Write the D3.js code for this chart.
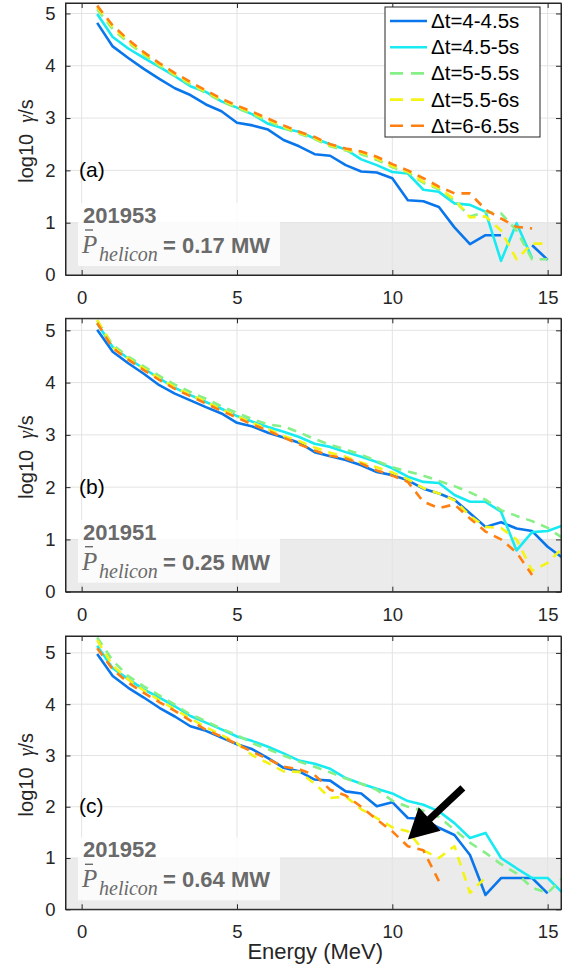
<!DOCTYPE html>
<html>
<head>
<meta charset="utf-8">
<script src="https://cdn.jsdelivr.net/npm/d3@7/dist/d3.min.js"></script>
<style>
  html, body { margin: 0; padding: 0; background: #fff; }
  svg { display: block; }
</style>
</head>
<body>
<svg id="chart" width="563" height="977"></svg>
<script>
// Energy bins (MeV)
const energy = [0.5, 1, 1.5, 2, 2.5, 3, 3.5, 4, 4.5, 5, 5.5, 6, 6.5, 7, 7.5, 8,
  8.5, 9, 9.5, 10, 10.5, 11, 11.5, 12, 12.5, 13, 13.5, 14, 14.5, 15, 15.5];

// Time windows
const seriesLabels = ["\u0394t=4-4.5s", "\u0394t=4.5-5s", "\u0394t=5-5.5s", "\u0394t=5.5-6s", "\u0394t=6-6.5s"];
const seriesColors = ["#0a76ec", "#18eaf2", "#86f086", "#f4f414", "#ff7f10"];
const seriesDashed = [false, false, true, true, true];

// Shot 201953 : log10 gamma/s
const a_t4  = [4.82, 4.37, 4.15, 3.94, 3.75, 3.57, 3.44, 3.26, 3.13, 2.91, 2.86, 2.78, 2.58, 2.46, 2.31, 2.28,
  2.10, 1.98, 1.96, 1.85, 1.43, 1.41, 1.30, 0.91, 0.59, 0.76, 0.76, null, 0.57, 0.29, null];
const a_t45 = [4.99, 4.55, 4.33, 4.15, 3.98, 3.80, 3.61, 3.50, 3.32, 3.20, 3.07, 2.89, 2.80, 2.74, 2.61, 2.50,
  2.40, 2.21, 2.10, 1.97, 1.94, 1.63, 1.59, 1.37, 1.34, 1.21, 0.27, 0.99, 0.32, null, null];
const a_t5  = [5.08, 4.70, 4.44, 4.21, 4.00, 3.81, 3.64, 3.48, 3.32, 3.19, 3.07, 2.94, 2.81, 2.70, 2.60, 2.46,
  2.38, 2.31, 2.20, 2.06, 1.96, 1.76, 1.64, 1.42, 1.12, 1.20, 1.18, 0.85, 0.30, 0.30, null];
const a_t55 = [5.12, 4.74, 4.47, 4.23, 4.03, 3.84, 3.67, 3.51, 3.35, 3.22, 3.10, 2.97, 2.84, 2.72, 2.62, 2.48,
  2.40, 2.34, 2.23, 2.08, 1.98, 1.78, 1.66, 1.45, 1.10, 1.12, 0.85, 0.30, 0.60, 0.60, null];
const a_t6  = [5.15, 4.77, 4.50, 4.26, 4.05, 3.86, 3.69, 3.53, 3.37, 3.24, 3.12, 2.99, 2.86, 2.74, 2.64, 2.50,
  2.42, 2.36, 2.26, 2.12, 2.00, 1.85, 1.69, 1.56, 1.56, 1.25, 1.08, 0.92, 0.89, null, null];

// Shot 201951
const b_t4  = [5.01, 4.59, 4.37, 4.17, 3.95, 3.79, 3.66, 3.53, 3.41, 3.23, 3.16, 3.04, 2.95, 2.85, 2.67, 2.59,
  2.52, 2.42, 2.29, 2.23, 2.13, 1.97, 1.88, 1.76, 1.50, 1.24, 1.33, 1.21, 1.16, 0.86, 0.64];
const b_t45 = [5.13, 4.68, 4.46, 4.27, 4.08, 3.90, 3.76, 3.63, 3.50, 3.36, 3.25, 3.15, 3.06, 2.96, 2.83, 2.77,
  2.67, 2.58, 2.48, 2.36, 2.20, 2.10, 2.08, 1.85, 1.72, 1.72, 1.53, 0.79, 1.14, 1.16, 1.27];
const b_t5  = [5.18, 4.72, 4.50, 4.31, 4.13, 3.96, 3.82, 3.69, 3.55, 3.42, 3.30, 3.20, 3.16, 3.05, 2.92, 2.81,
  2.72, 2.62, 2.50, 2.38, 2.30, 2.22, 2.12, 2.02, 1.90, 1.76, 1.56, 1.45, 1.35, 1.22, 1.02];
const b_t55 = [5.20, 4.68, 4.46, 4.27, 4.08, 3.91, 3.77, 3.63, 3.49, 3.36, 3.23, 3.11, 2.98, 2.88, 2.76, 2.66,
  2.58, 2.47, 2.38, 2.28, 2.15, 1.98, 1.88, 1.75, 1.45, 1.24, 1.22, 1.00, 0.40, 0.55, 0.85];
const b_t6  = [5.14, 4.66, 4.44, 4.24, 4.05, 3.88, 3.74, 3.60, 3.46, 3.33, 3.20, 3.08, 2.95, 2.82, 2.70, 2.60,
  2.55, 2.45, 2.32, 2.22, 2.10, 1.72, 1.60, 1.67, 1.40, 1.15, 1.00, 0.75, 0.32, null, null];

// Shot 201952
const c_t4  = [4.98, 4.55, 4.32, 4.13, 3.93, 3.76, 3.57, 3.48, 3.35, 3.22, 3.12, 2.95, 2.76, 2.69, 2.53, 2.51,
  2.30, 2.26, 2.01, 2.09, 1.78, 1.76, 1.59, 1.45, 1.06, 0.28, 0.61, 0.61, 0.61, 0.31, null];
const c_t45 = [5.14, 4.70, 4.49, 4.29, 4.13, 3.96, 3.77, 3.64, 3.51, 3.37, 3.28, 3.17, 3.04, 2.90, 2.84, 2.74,
  2.56, 2.45, 2.35, 2.26, 2.11, 2.04, 1.91, 1.68, 1.39, 1.49, 1.00, 0.80, 0.61, 0.61, 0.31];
const c_t5  = [5.30, 4.85, 4.55, 4.35, 4.17, 3.99, 3.80, 3.67, 3.52, 3.40, 3.24, 3.12, 3.00, 2.88, 2.78, 2.67,
  2.55, 2.45, 2.33, 2.12, 2.00, 1.92, 1.80, 1.55, 1.30, 1.10, 0.88, 0.70, 0.42, 0.32, 0.62];
const c_t55 = [5.25, 4.75, 4.48, 4.27, 4.08, 3.90, 3.72, 3.55, 3.40, 3.24, 3.00, 2.85, 2.69, 2.68, 2.45, 2.17,
  2.20, 1.95, 1.78, 1.60, 1.52, 1.15, 1.00, 1.23, 0.32, 0.62, null, null, null, null, null];
const c_t6  = [5.09, 4.68, 4.42, 4.22, 4.04, 3.87, 3.68, 3.50, 3.37, 3.22, 3.07, 2.93, 2.78, 2.73, 2.62, 2.33,
  2.22, 2.00, 1.75, 1.52, 1.23, 1.15, 0.55, null, null, null, null, null, null, null, null];

// Per-panel labels and axis settings
const panelTags = ["(a)", "(b)", "(c)"];
const shotIds = ["201953", "201951", "201952"];
const heliconPower = ["0.17", "0.25", "0.64"];
const yMax = [5.2, 5.23, 5.33];
const xTicks = [0, 5, 10, 15];
const yTicks = [0, 1, 2, 3, 4, 5];
const shadeTop = 1;           // shaded detection-floor band: log10 gamma/s < 1
const arrowFrom = [12.27, 2.37];  // arrow in panel (c), data coordinates
const arrowTo = [10.5, 1.36];

const panels = [
  [a_t4, a_t45, a_t5, a_t55, a_t6],
  [b_t4, b_t45, b_t5, b_t55, b_t6],
  [c_t4, c_t45, c_t5, c_t55, c_t6]
];

// ---------- layout ----------
const svg = d3.select("#chart");
const X0 = 65.5, X1 = 561;
const frames = [
  { top: 3, bottom: 275 },
  { top: 318.3, bottom: 591.7 },
  { top: 636, bottom: 909.3 }
];
const axisColor = "#262626";
const gridColor = "#e3e3e3";
const noteColor = "#6a6a6a";
const sans = "'Liberation Sans', Arial, Helvetica, sans-serif";
const serif = "'Liberation Serif', 'Times New Roman', serif";

const x = d3.scaleLinear().domain([-0.52, 15.43]).range([X0, X1]);
const defs = svg.append("defs");

panels.forEach((series, i) => {
  const f = frames[i];
  const y = d3.scaleLinear().domain([0, yMax[i]]).range([f.bottom, f.top]);
  const g = svg.append("g");

  const clipId = "clip" + i;
  defs.append("clipPath").attr("id", clipId)
    .append("rect").attr("x", X0).attr("y", f.top)
    .attr("width", X1 - X0).attr("height", f.bottom - f.top);

  // shaded band
  g.append("rect")
    .attr("x", X0).attr("width", X1 - X0)
    .attr("y", y(shadeTop)).attr("height", y(0) - y(shadeTop))
    .attr("fill", "#ebebeb");

  // grid
  g.append("g").selectAll("line").data(xTicks).join("line")
    .attr("x1", d => x(d)).attr("x2", d => x(d))
    .attr("y1", f.top).attr("y2", f.bottom)
    .attr("stroke", gridColor).attr("stroke-width", 1);
  g.append("g").selectAll("line").data(yTicks).join("line")
    .attr("x1", X0).attr("x2", X1)
    .attr("y1", d => y(d)).attr("y2", d => y(d))
    .attr("stroke", gridColor).attr("stroke-width", 1);

  // spectra
  const line = d3.line()
    .defined(d => d[1] != null)
    .x(d => x(d[0])).y(d => y(d[1]));
  const plot = g.append("g").attr("clip-path", `url(#${clipId})`);
  series.forEach((vals, k) => {
    plot.append("path")
      .datum(energy.map((e, j) => [e, vals[j]]))
      .attr("d", line)
      .attr("fill", "none")
      .attr("stroke", seriesColors[k])
      .attr("stroke-width", 2.6)
      .attr("stroke-linejoin", "round")
      .attr("stroke-dasharray", seriesDashed[k] ? "9,7" : null);
  });

  // axes (inward ticks on all four sides)
  const styleAxis = sel => {
    sel.selectAll("path.domain").attr("stroke", axisColor).attr("stroke-width", 1);
    sel.selectAll(".tick line").attr("stroke", axisColor).attr("stroke-width", 1);
    sel.selectAll(".tick text").attr("fill", axisColor)
      .style("font-family", sans).style("font-size", "18.5px");
  };
  g.append("g").attr("transform", `translate(0,${f.bottom})`)
    .call(d3.axisBottom(x).tickValues(xTicks).tickFormat(d3.format("d"))
      .tickSizeInner(-5).tickSizeOuter(0).tickPadding(16))
    .call(styleAxis);
  g.append("g").attr("transform", `translate(0,${f.top})`)
    .call(d3.axisTop(x).tickValues(xTicks).tickSizeInner(-5).tickSizeOuter(0).tickFormat(""))
    .call(styleAxis);
  g.append("g").attr("transform", `translate(${X0},0)`)
    .call(d3.axisLeft(y).tickValues(yTicks).tickFormat(d3.format("d"))
      .tickSizeInner(-5).tickSizeOuter(0).tickPadding(10))
    .call(styleAxis);
  g.append("g").attr("transform", `translate(${X1},0)`)
    .call(d3.axisRight(y).tickValues(yTicks).tickSizeInner(-5).tickSizeOuter(0).tickFormat(""))
    .call(styleAxis);

  // y label
  const yl = g.append("text")
    .attr("transform", `translate(33,${(f.top + f.bottom) / 2 + 2}) rotate(-90)`)
    .attr("text-anchor", "middle")
    .attr("fill", axisColor)
    .style("font-family", sans).style("font-size", "20px");
  yl.append("tspan").text("log10\u00a0\u00a0");
  yl.append("tspan").style("font-family", serif).style("font-style", "italic").text("\u03b3");
  yl.append("tspan").text("/s");

  // panel tag
  g.append("text")
    .attr("x", 79).attr("y", y(1.87))
    .attr("fill", "#000")
    .style("font-family", sans).style("font-size", "21px")
    .text(panelTags[i]);

  // shot annotation box
  g.append("rect")
    .attr("x", 78).attr("width", 202)
    .attr("y", f.bottom - 72).attr("height", 63)
    .attr("fill", "#fff").attr("fill-opacity", 0.8);
  g.append("text")
    .attr("x", 83).attr("y", f.bottom - 52)
    .attr("fill", noteColor)
    .style("font-family", sans).style("font-weight", "bold").style("font-size", "22px")
    .text(shotIds[i]);
  const pt = g.append("text")
    .attr("x", 82).attr("y", f.bottom - 22)
    .attr("fill", noteColor);
  pt.append("tspan")
    .style("font-family", serif).style("font-style", "italic").style("font-size", "25px")
    .text("P");
  pt.append("tspan")
    .attr("x", 99).attr("dy", 8)
    .style("font-family", serif).style("font-style", "italic").style("font-size", "20px")
    .text("helicon");
  pt.append("tspan")
    .attr("x", 163).attr("dy", -8)
    .style("font-family", sans).style("font-weight", "bold").style("font-size", "22px")
    .text(`= ${heliconPower[i]} MW`);
  // overbar on P
  g.append("line")
    .attr("x1", 85).attr("x2", 93)
    .attr("y1", f.bottom - 45).attr("y2", f.bottom - 45)
    .attr("stroke", noteColor).attr("stroke-width", 1.4);

  // box border
  g.append("rect")
    .attr("x", X0).attr("y", f.top)
    .attr("width", X1 - X0).attr("height", f.bottom - f.top)
    .attr("fill", "none").attr("stroke", axisColor).attr("stroke-width", 1);

  // legend in the first panel
  if (i === 0) {
    const lg = g.append("g");
    lg.append("rect")
      .attr("x", 385).attr("y", 7).attr("width", 155).attr("height", 130)
      .attr("fill", "#fff").attr("stroke", axisColor).attr("stroke-width", 1);
    seriesLabels.forEach((lab, k) => {
      const cy = 21 + k * 26.2;
      lg.append("line")
        .attr("x1", 390).attr("x2", 427).attr("y1", cy).attr("y2", cy)
        .attr("stroke", seriesColors[k]).attr("stroke-width", 2.6)
        .attr("stroke-dasharray", seriesDashed[k] ? "13,8" : null);
      lg.append("text")
        .attr("x", 431).attr("y", cy + 7)
        .attr("fill", "#000")
        .style("font-family", sans).style("font-size", "20.5px")
        .text(lab);
    });
  }

  // arrow in the last panel
  if (i === 2) {
    const x1 = x(arrowFrom[0]), y1 = y(arrowFrom[1]);
    const x2 = x(arrowTo[0]), y2 = y(arrowTo[1]);
    const ang = Math.atan2(y2 - y1, x2 - x1);
    const headLen = 30, headW = 16, shaftW = 3.6;
    const ux = Math.cos(ang), uy = Math.sin(ang);
    const px = -uy, py = ux;
    const bx = x2 - ux * headLen, by = y2 - uy * headLen;
    const pts = [
      [x1 + px * shaftW, y1 + py * shaftW],
      [bx + px * shaftW, by + py * shaftW],
      [bx + px * headW, by + py * headW],
      [x2, y2],
      [bx - px * headW, by - py * headW],
      [bx - px * shaftW, by - py * shaftW],
      [x1 - px * shaftW, y1 - py * shaftW]
    ];
    g.append("polygon")
      .attr("points", pts.map(p => p.join(",")).join(" "))
      .attr("fill", "#000");
  }
});

// x label
svg.append("text")
  .attr("x", (X0 + X1) / 2 + 2).attr("y", 959)
  .attr("text-anchor", "middle")
  .attr("fill", axisColor)
  .style("font-family", sans).style("font-size", "22px")
  .text("Energy (MeV)");
</script>
</body>
</html>
